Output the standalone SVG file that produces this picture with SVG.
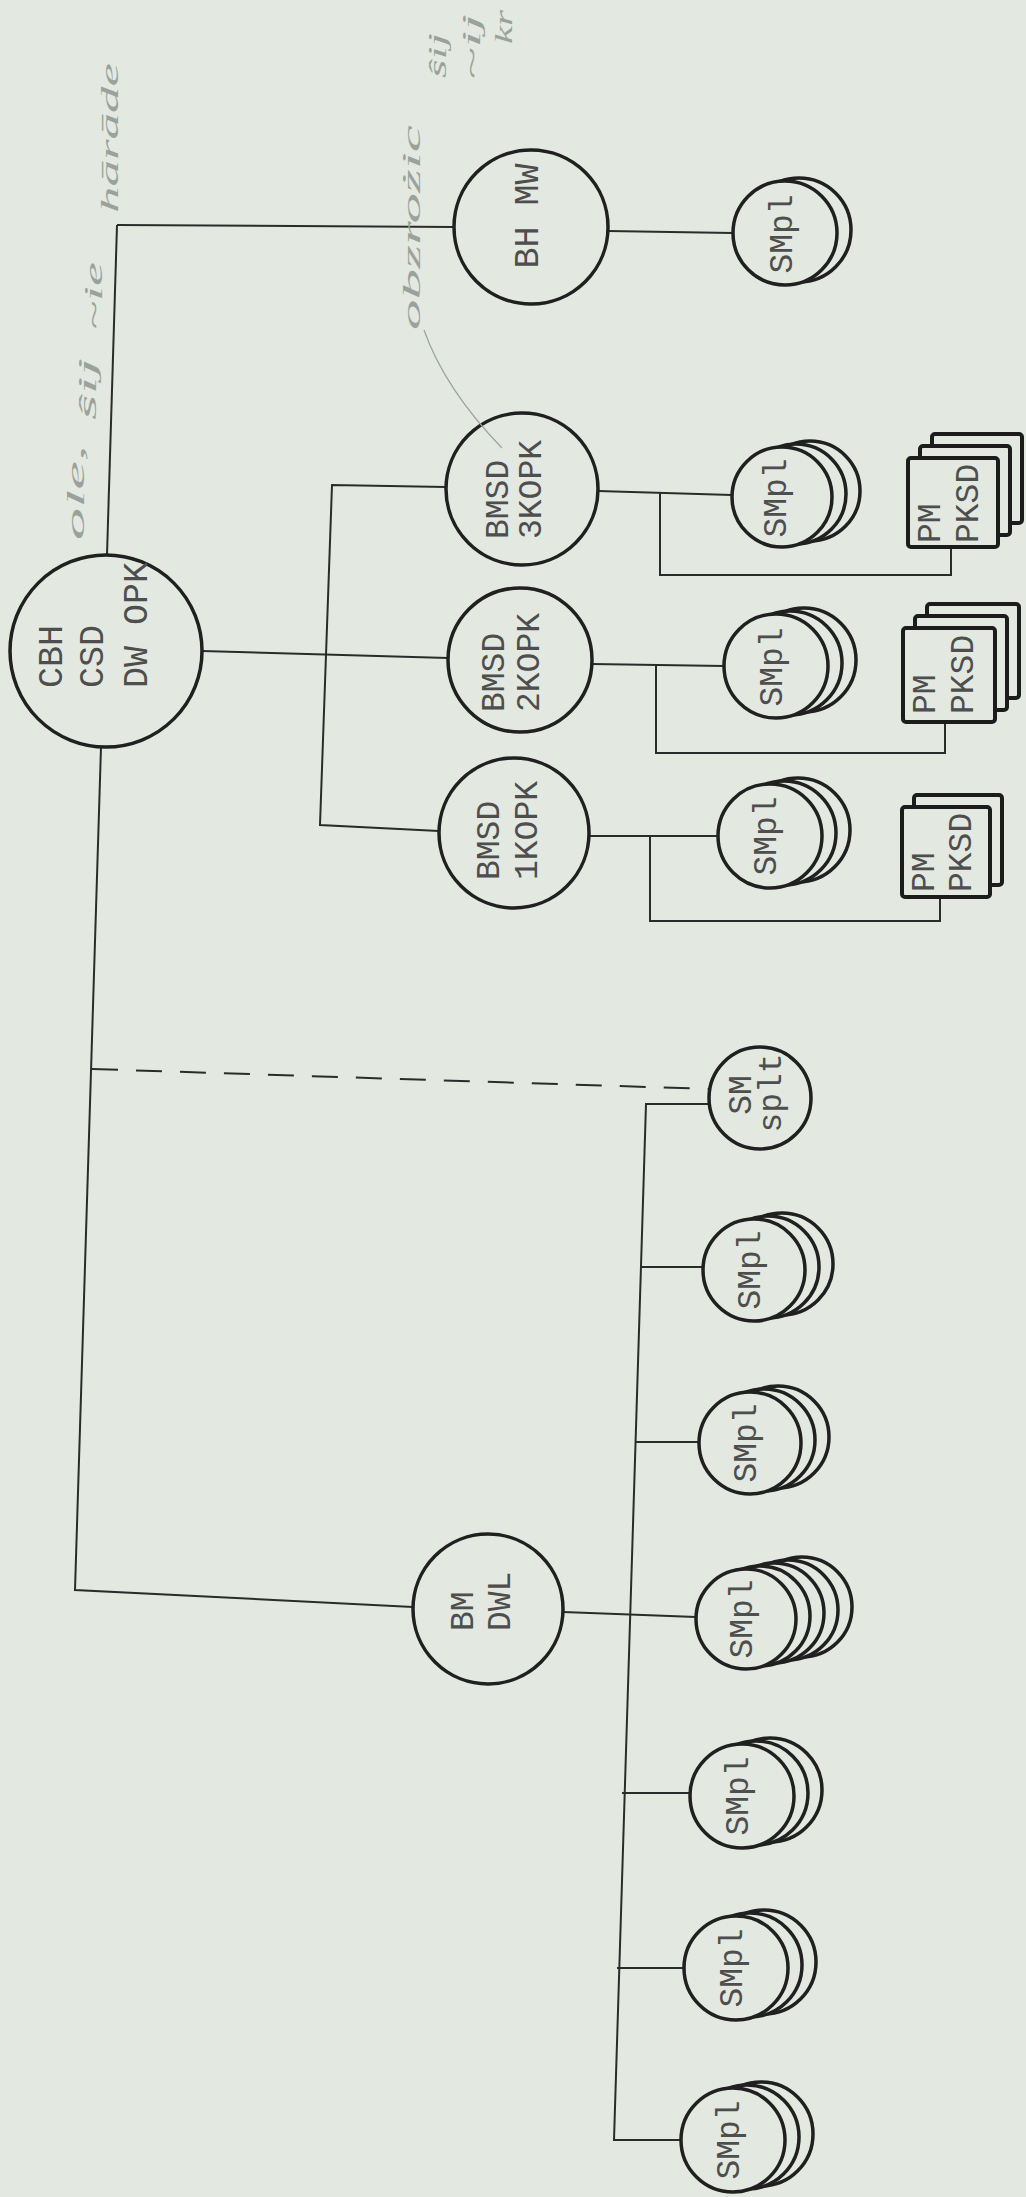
<svg xmlns="http://www.w3.org/2000/svg" width="1026" height="2197" viewBox="0 0 1026 2197">
<style>
.bg{fill:#e3e9e1}
.c{fill:#e3e9e1;stroke:#202020;stroke-width:3.5}
.b{fill:#e3e9e1;stroke:#1c1c1c;stroke-width:4;}
.conn{fill:none;stroke:#2b2b2b;stroke-width:2}
.dash{fill:none;stroke:#2b2b2b;stroke-width:2;stroke-dasharray:26 18}
.t{font-family:"Liberation Mono","Courier New",monospace;fill:#4e4e4e;font-size:33px}
.tl{font-family:"Liberation Mono","Courier New",monospace;fill:#4e4e4e;font-size:35px}
.m{text-anchor:middle}
.hw{font-family:"Liberation Serif","DejaVu Serif",serif;font-style:italic;fill:#9ba29b;font-size:26px}
.pen{fill:none;stroke:#9ba29b;stroke-width:1.2}
</style>
<rect class="bg" x="0" y="0" width="1026" height="2197"/>

<g id="connectors">
  <path class="conn" d="M117,225 L107,555"/>
  <path class="conn" d="M101,747 L75,1590 L413,1607"/>
  <path class="conn" d="M117,225 L454,227"/>
  <path class="conn" d="M608,231 L733,233"/>
  <path class="conn" d="M202,651 L448,658"/>
  <path class="conn" d="M446,487 L332,485 L320,825 L439,831"/>
  <path class="conn" d="M598,491 L732,495"/>
  <path class="conn" d="M660,492 L660,575 L951,575 L951,547"/>
  <path class="conn" d="M592,664 L724,666"/>
  <path class="conn" d="M656,665 L656,753 L945,753 L945,722"/>
  <path class="conn" d="M589,836 L718,836"/>
  <path class="conn" d="M650,836 L650,921 L940,921 L940,897"/>
  <path class="dash" d="M92,1069 L709,1089"/>
  <path class="conn" d="M709,1104 L646,1104 L614,2140 L681,2140"/>
  <path class="conn" d="M641,1267 L703,1267"/>
  <path class="conn" d="M635,1442 L699,1442"/>
  <path class="conn" d="M563,1612 L696,1617"/>
  <path class="conn" d="M622,1793 L691,1793"/>
  <path class="conn" d="M617,1968 L685,1968"/>
</g>

<g id="n-cbh">
  <circle class="c" cx="106" cy="651" r="96"/>
  <text class="tl" transform="translate(62,688) rotate(-90)">CBH</text>
  <text class="tl" transform="translate(103,688) rotate(-90)">CSD</text>
  <text class="tl" transform="translate(147,688) rotate(-90)">DW OPK</text>
</g>

<g id="n-bhmw">
  <circle class="c" cx="531" cy="227" r="77"/>
  <text class="tl m" transform="translate(538,216) rotate(-90)">BH MW</text>
</g>
<g id="n-smpl-bhmw">
  <circle class="c" cx="799" cy="230" r="52"/>
  <circle class="c" cx="785" cy="233" r="52"/>
  <text class="t m" transform="translate(792,234) rotate(-90)">SMpl</text>
</g>

<g id="n-bmsd3">
  <circle class="c" cx="522" cy="489" r="76"/>
  <text class="t" transform="translate(508,539) rotate(-90)">BMSD</text>
  <text class="t" transform="translate(541,539) rotate(-90)">3KOPK</text>
</g>
<g id="n-bmsd2">
  <circle class="c" cx="520" cy="660" r="72"/>
  <text class="t" transform="translate(504,712) rotate(-90)">BMSD</text>
  <text class="t" transform="translate(539,712) rotate(-90)">2KOPK</text>
</g>
<g id="n-bmsd1">
  <circle class="c" cx="514" cy="833" r="75"/>
  <text class="t" transform="translate(499,880) rotate(-90)">BMSD</text>
  <text class="t" transform="translate(537,880) rotate(-90)">1KOPK</text>
</g>

<g id="n-smpl-3k">
  <circle class="c" cx="810" cy="491" r="50"/>
  <circle class="c" cx="796" cy="494" r="50"/>
  <circle class="c" cx="782" cy="497" r="50"/>
  <text class="t m" transform="translate(786,498) rotate(-90)">SMpl</text>
</g>
<g id="n-smpl-2k">
  <circle class="c" cx="804" cy="660" r="52"/>
  <circle class="c" cx="790" cy="663" r="52"/>
  <circle class="c" cx="776" cy="666" r="52"/>
  <text class="t m" transform="translate(782,667) rotate(-90)">SMpl</text>
</g>
<g id="n-smpl-1k">
  <circle class="c" cx="798" cy="830" r="52"/>
  <circle class="c" cx="784" cy="833" r="52"/>
  <circle class="c" cx="770" cy="836" r="52"/>
  <text class="t m" transform="translate(776,836) rotate(-90)">SMpl</text>
</g>

<g id="n-pm-3k">
  <rect class="b" x="932" y="434" width="90" height="89" rx="3"/>
  <rect class="b" x="920" y="446" width="90" height="89" rx="3"/>
  <rect class="b" x="908" y="458" width="90" height="89" rx="3"/>
  <text class="t" transform="translate(940,543) rotate(-90)">PM</text>
  <text class="t" transform="translate(978,543) rotate(-90)">PKSD</text>
</g>
<g id="n-pm-2k">
  <rect class="b" x="927" y="604" width="92" height="94" rx="3"/>
  <rect class="b" x="915" y="616" width="92" height="94" rx="3"/>
  <rect class="b" x="903" y="628" width="92" height="94" rx="3"/>
  <text class="t" transform="translate(935,714) rotate(-90)">PM</text>
  <text class="t" transform="translate(973,714) rotate(-90)">PKSD</text>
</g>
<g id="n-pm-1k">
  <rect class="b" x="914" y="795" width="88" height="90" rx="3"/>
  <rect class="b" x="902" y="807" width="88" height="90" rx="3"/>
  <text class="t" transform="translate(934,892) rotate(-90)">PM</text>
  <text class="t" transform="translate(971,892) rotate(-90)">PKSD</text>
</g>

<g id="n-smsplt">
  <circle class="c" cx="760" cy="1098" r="51"/>
  <text class="t m" transform="translate(751,1095) rotate(-90)">SM</text>
  <text class="t m" transform="translate(781,1093) rotate(-90)">splt</text>
</g>
<g id="n-smpl-a">
  <circle class="c" cx="782" cy="1264" r="51"/>
  <circle class="c" cx="768" cy="1267" r="51"/>
  <circle class="c" cx="754" cy="1270" r="51"/>
  <text class="t m" transform="translate(760,1270) rotate(-90)">SMpl</text>
</g>
<g id="n-smpl-b">
  <circle class="c" cx="778" cy="1437" r="51"/>
  <circle class="c" cx="764" cy="1440" r="51"/>
  <circle class="c" cx="750" cy="1443" r="51"/>
  <text class="t m" transform="translate(756,1443) rotate(-90)">SMpl</text>
</g>

<g id="n-bmdwl">
  <circle class="c" cx="488" cy="1609" r="75"/>
  <text class="t" transform="translate(473,1631) rotate(-90)">BM</text>
  <text class="t" transform="translate(510,1631) rotate(-90)">DWL</text>
</g>
<g id="n-smpl-c">
  <circle class="c" cx="802" cy="1607" r="50"/>
  <circle class="c" cx="788" cy="1610" r="50"/>
  <circle class="c" cx="774" cy="1613" r="50"/>
  <circle class="c" cx="760" cy="1616" r="50"/>
  <circle class="c" cx="746" cy="1619" r="50"/>
  <text class="t m" transform="translate(752,1619) rotate(-90)">SMpl</text>
</g>
<g id="n-smpl-d">
  <circle class="c" cx="770" cy="1790" r="52"/>
  <circle class="c" cx="756" cy="1793" r="52"/>
  <circle class="c" cx="742" cy="1796" r="52"/>
  <text class="t m" transform="translate(748,1796) rotate(-90)">SMpl</text>
</g>
<g id="n-smpl-e">
  <circle class="c" cx="764" cy="1962" r="52"/>
  <circle class="c" cx="750" cy="1965" r="52"/>
  <circle class="c" cx="736" cy="1968" r="52"/>
  <text class="t m" transform="translate(742,1968) rotate(-90)">SMpl</text>
</g>
<g id="n-smpl-f">
  <circle class="c" cx="761" cy="2134" r="52"/>
  <circle class="c" cx="747" cy="2137" r="52"/>
  <circle class="c" cx="733" cy="2140" r="52"/>
  <text class="t m" transform="translate(739,2140) rotate(-90)">SMpl</text>
</g>

<g id="annotations">
  <text class="hw" transform="translate(84,540) rotate(-90)" textLength="95" lengthAdjust="spacingAndGlyphs">ole,</text>
  <text class="hw" transform="translate(96,420) rotate(-90)" textLength="62" lengthAdjust="spacingAndGlyphs">ŝij</text>
  <text class="hw" transform="translate(102,330) rotate(-90)" textLength="68" lengthAdjust="spacingAndGlyphs">~ie</text>
  <text class="hw" transform="translate(118,213) rotate(-90)" textLength="150" lengthAdjust="spacingAndGlyphs">hārāde</text>
  <text class="hw" transform="translate(420,330) rotate(-90)" textLength="205" lengthAdjust="spacingAndGlyphs">obzrożic</text>
  <text class="hw" transform="translate(446,78) rotate(-90)" textLength="45" lengthAdjust="spacingAndGlyphs">ŝij</text>
  <text class="hw" transform="translate(480,80) rotate(-90)" textLength="66" lengthAdjust="spacingAndGlyphs">~ij</text>
  <text class="hw" transform="translate(512,44) rotate(-90)" textLength="34" lengthAdjust="spacingAndGlyphs">kr</text>
  <path class="pen" d="M424,330 C440,375 470,415 502,448"/>
</g>
</svg>
